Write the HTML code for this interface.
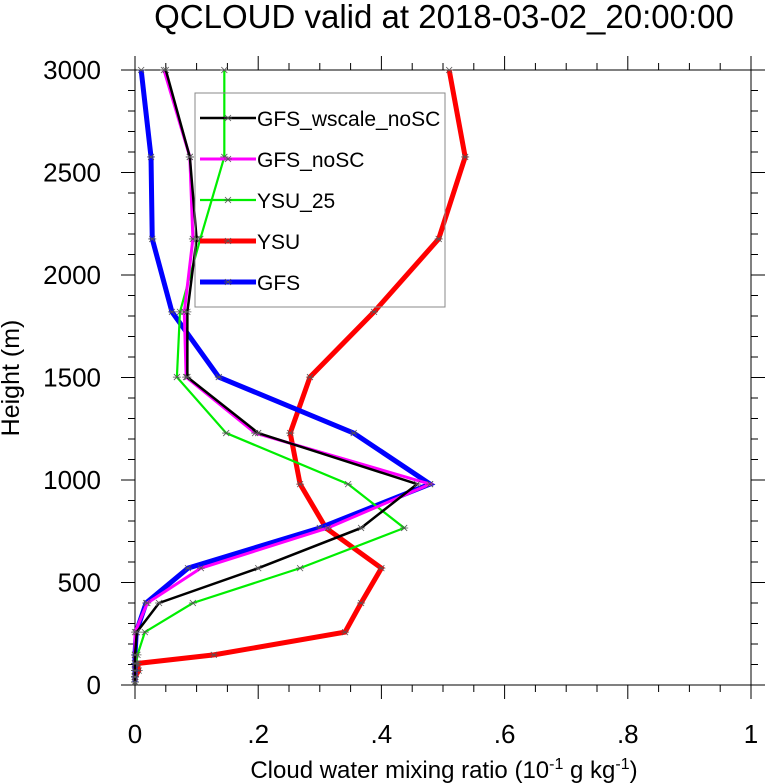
<!DOCTYPE html>
<html><head><meta charset="utf-8"><style>
html,body{margin:0;padding:0;background:#fff;}
svg{display:block;font-family:"Liberation Sans",sans-serif;}
</style></head><body>
<svg id="chart" width="767" height="784" viewBox="0 0 767 784" xmlns="http://www.w3.org/2000/svg">
<text x="444" y="28" font-size="33" text-anchor="middle">QCLOUD valid at 2018-03-02_20:00:00</text>
<g id="axes"></g>
<g id="series"></g>
<g id="legend"></g>
<text x="444" y="778" font-size="24" text-anchor="middle">Cloud water mixing ratio (10<tspan dy="-9" font-size="16">-1</tspan><tspan dy="9"> g kg</tspan><tspan dy="-9" font-size="16">-1</tspan><tspan dy="9">)</tspan></text>
<text transform="translate(19,378) rotate(-90)" font-size="25" text-anchor="middle">Height (m)</text>
</svg>
<script>
const heights = [15, 40, 70, 105, 147, 258, 400, 570, 766, 980, 1229, 1502, 1820, 2176, 2576, 3000];
const seriesNames = ["YSU", "GFS", "YSU_25", "GFS_noSC", "GFS_wscale_noSC"];
const ysu = [0, 0, 0.006, 0.004, 0.128, 0.341, 0.367, 0.40, 0.31, 0.268, 0.252, 0.284, 0.388, 0.493, 0.536, 0.51];
const gfs = [0, 0, 0, 0, 0, 0.002, 0.018, 0.086, 0.30, 0.479, 0.355, 0.136, 0.06, 0.028, 0.026, 0.01];
const ysu25 = [0, 0, 0, 0.002, 0.004, 0.016, 0.094, 0.268, 0.437, 0.346, 0.148, 0.068, 0.073, 0.106, 0.145, 0.145];
const gfsNoSC = [0, 0, 0, 0, 0, 0, 0.02, 0.107, 0.313, 0.479, 0.195, 0.083, 0.08, 0.094, 0.089, 0.047];
const gfsWscale = [0, 0, 0, 0, 0, 0.003, 0.039, 0.2, 0.367, 0.458, 0.2, 0.085, 0.085, 0.1, 0.089, 0.05];
const xTicks = [0, 0.2, 0.4, 0.6, 0.8, 1];
const xTickLabels = ["0", ".2", ".4", ".6", ".8", "1"];
const yTicks = [0, 500, 1000, 1500, 2000, 2500, 3000];
const yTickLabels = ["0", "500", "1000", "1500", "2000", "2500", "3000"];

const NS = "http://www.w3.org/2000/svg";
const X0 = 135, X1 = 751, Y0 = 685, Y1 = 70;
const xs = v => X0 + (X1 - X0) * v;
const ys = h => Y0 - (Y0 - Y1) * h / 3000;
function mk(tag, attrs, parent){const e=document.createElementNS(NS,tag);for(const k in attrs)e.setAttribute(k,attrs[k]);parent.appendChild(e);return e;}
const axes=document.getElementById('axes');
const frame = mk('rect',{x:X0,y:Y1,width:X1-X0,height:Y0-Y1,fill:'none',stroke:'#000','stroke-width':1},axes);


for(let i=0;i<=20;i++){const v=i*0.05;const major=i%4===0;const L=major?14:7;
 const x=xs(v);
 const t1=mk('line',{x1:x,x2:x,y1:Y0,y2:Y0+L,stroke:'#000'},axes);
 
 
 const t2=mk('line',{x1:x,x2:x,y1:Y1,y2:Y1-L,stroke:'#000'},axes);
 
 
}
for(let i=0;i<=30;i++){const h=i*100;const major=i%5===0;const L=major?14:7;const y=ys(h);
 const t1=mk('line',{x1:X0,x2:X0-L,y1:y,y2:y,stroke:'#000'},axes);
 
 
 const t2=mk('line',{x1:X1,x2:X1+L,y1:y,y2:y,stroke:'#000'},axes);
 
 
}
xTicks.forEach((v,i)=>{const t=mk('text',{x:xs(v),y:743,'font-size':26,'text-anchor':'middle'},axes);t.textContent=xTickLabels[i];
 
 });
yTicks.forEach((h,i)=>{const t=mk('text',{x:101,y:ys(h)+9,'font-size':26,'text-anchor':'end'},axes);t.textContent=yTickLabels[i];
 
 });

const styles = {
 "YSU":{data:ysu,color:'#ff0000',w:5},
 "GFS":{data:gfs,color:'#0000ff',w:5},
 "YSU_25":{data:ysu25,color:'#00ee00',w:2.2},
 "GFS_noSC":{data:gfsNoSC,color:'#ff00ff',w:3},
 "GFS_wscale_noSC":{data:gfsWscale,color:'#000000',w:2.5}
};
const sg=document.getElementById('series');
function star(g,x,y){
 const s=mk('path',{d:`M${x-4} ${y}H${x+4}M${x-3} ${y-3}L${x+3} ${y+3}M${x-3} ${y+3}L${x+3} ${y-3}`,stroke:'#555','stroke-width':0.8,fill:'none'},g);
 
 
}
seriesNames.forEach(n=>{const st=styles[n];const g=mk('g',{},sg);
 
 
 const pts=st.data.map((v,i)=>xs(v)+','+ys(heights[i])).join(' ');
 const pl=mk('polyline',{points:pts,fill:'none',stroke:st.color,'stroke-width':st.w,'stroke-linejoin':'miter'},g);
 
 
 st.data.forEach((v,i)=>star(g,xs(v),ys(heights[i])));
});
const lg=document.getElementById('legend');


const lb=mk('rect',{x:195,y:93,width:250,height:214,fill:'#fff','fill-opacity':0,stroke:'#888','stroke-width':1},lg);


const legOrder=["GFS_wscale_noSC","GFS_noSC","YSU_25","YSU","GFS"];
legOrder.forEach((n,i)=>{const st=styles[n];const y=118+i*41;const g=mk('g',{},lg);
 
 
 mk('line',{x1:200,x2:256,y1:y,y2:y,stroke:st.color,'stroke-width':st.w},g);
 star(g,228,y);
 const t=mk('text',{x:257,y:y+8,'font-size':21},g);t.textContent=n;
});
</script>
</body></html>
